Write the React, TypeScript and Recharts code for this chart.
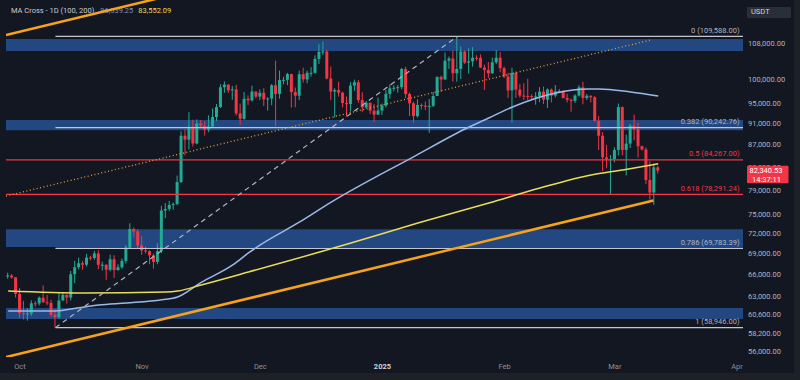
import React from 'react';
import { ComposedChart, Bar, Line, XAxis, YAxis, ReferenceLine, ReferenceArea } from 'recharts';

// day 0 = 2024-10-01 ; first candle = 2024-09-28 (day -3)
const START_DAY = -3;

const opens = [
  65790, 65860, 65600,
  63330, 60800, 60650, 60750, 62080, 62060, 62820, 62220, 62130, 60580, 60270, 62450, 63200, 62850, 66050, 67040, 67610, 67400, 68420, 68360, 69030, 67380, 67390, 66680, 68180, 66630, 67030, 67940, 69910, 72720, 72340,
  70220, 69480, 69370, 68760, 67800, 69360, 75640, 75900, 76540, 76680, 80370, 88700, 87960, 90400, 87250, 91060, 90580, 89850, 90460, 92310, 94290, 98350, 98900, 97700, 97900, 93010, 91960, 95960, 95640, 97460,
  96410, 97190, 95840, 96000, 98770, 96960, 99870, 99920, 101150, 97350, 96600, 101120, 100000, 101420, 101420, 104460, 106060, 106130, 100200, 97460, 97760, 97220, 95100, 94890, 98700, 99400, 95700, 94200, 95160, 93570, 92780,
  93580, 94590, 96980, 98140, 98230, 98360, 102250, 96950, 95040, 92480, 94700, 94570, 94510, 94520, 96530, 100500, 99990, 104080, 104560, 101330, 102260, 106140, 103650, 103930, 104720, 104710, 102570, 102050, 101300, 103700, 104730,
  102430, 100640, 97690, 101400, 97870, 96620, 96550, 96500, 96450, 96460, 97430, 95780, 97870, 96620, 97510, 97570, 96120, 95770, 95540, 96630, 98330, 96130, 96580, 96270, 91550, 88700, 84700, 84350,
  84380, 86060, 94270, 86070, 87220, 90620, 89960, 86740, 86150, 80730, 78600, 82930,
];
const highs = [
  66260, 66080, 65630,
  64130, 62390, 61470, 62480, 62370, 62980, 64480, 63180, 62540, 61300, 63420, 63480, 63290, 66500, 67950, 68420, 67940, 68970, 68690, 69400, 69520, 67840, 67470, 68850, 68780, 67450, 68300, 70270, 73620, 72960, 72700,
  71630, 70000, 69460, 69000, 70580, 76400, 76850, 77200, 76950, 81500, 89530, 89940, 93260, 91790, 91850, 91740, 91450, 92650, 94000, 94900, 99000, 99590, 98950, 98630, 98870, 94970, 97360, 96650, 98690, 97460,
  97900, 98150, 96300, 99000, 104090, 101900, 100550, 101400, 101220, 98300, 101900, 102540, 101900, 102650, 105250, 107780, 108350, 106530, 102800, 98140, 99500, 97400, 96420, 99420, 99960, 99880, 97300, 95500, 95200, 94900, 96200,
  95000, 97800, 98980, 98770, 98800, 102480, 102720, 97250, 95350, 95830, 95000, 95400, 95900, 97370, 100680, 100870, 105900, 104990, 106330, 109588, 107240, 106400, 106850, 107120, 105290, 105470, 103200, 103780, 104780, 106450, 106000,
  102780, 101450, 102500, 101730, 99000, 99200, 100140, 96880, 97320, 98350, 98500, 98120, 98100, 98830, 97970, 97730, 97000, 96000, 96900, 98770, 99500, 96950, 96670, 96500, 92500, 89400, 87000, 85120,
  86550, 95000, 94420, 88900, 90990, 92800, 91200, 86850, 86500, 84000, 83600, 83200,
];
const lows = [
  65420, 65430, 62850,
  60160, 59980, 59830, 60460, 61640, 61800, 62130, 61840, 60310, 58946, 60060, 62430, 62040, 62440, 64800, 66750, 66660, 67160, 68030, 68100, 66750, 66570, 65260, 66460, 65520, 66560, 66820, 67570, 69730, 71440, 69690,
  68830, 69040, 67460, 66830, 67460, 69070, 74420, 75570, 75750, 76490, 80220, 85070, 86130, 86670, 87100, 90090, 88720, 89370, 90420, 91500, 94100, 97200, 97170, 95770, 92600, 90790, 91770, 94700, 95400, 96030,
  95700, 94500, 93580, 94660, 90500, 95980, 98950, 98770, 94150, 94260, 95700, 99310, 99200, 100620, 101220, 103330, 105320, 100000, 95670, 92230, 96400, 94200, 92400, 93400, 97600, 95140, 93250, 94000, 92900, 91300, 92700,
  92750, 94200, 96000, 97520, 97250, 97920, 96130, 92500, 91200, 92200, 93800, 93700, 89260, 94300, 96500, 97330, 99950, 102280, 99550, 99500, 100100, 103340, 101250, 102750, 104100, 102460, 97780, 100270, 101250, 103300, 101550,
  100280, 96150, 91230, 96150, 96200, 95700, 95650, 95700, 94750, 95260, 94880, 94090, 95220, 96250, 97230, 96050, 95200, 93350, 95120, 96400, 94850, 95720, 95250, 91370, 86050, 82250, 82770, 78250,
  83820, 85050, 85080, 81500, 86400, 87850, 84670, 85950, 80000, 77400, 76550, 81800,
];
const closes = [
  65860, 65600, 63330,
  60800, 60650, 60750, 62080, 62060, 62820, 62220, 62130, 60580, 60270, 62450, 63200, 62850, 66050, 67040, 67610, 67400, 68420, 68360, 69030, 67380, 67390, 66680, 68180, 66630, 67030, 67940, 69910, 72720, 72340, 70220,
  69480, 69370, 68760, 67800, 69360, 75640, 75900, 76540, 76680, 80370, 88700, 87960, 90400, 87250, 91060, 90580, 89850, 90460, 92310, 94290, 98350, 98900, 97700, 97900, 93010, 91960, 95960, 95640, 97460, 96410,
  97190, 95840, 96000, 98770, 96960, 99870, 99920, 101150, 97350, 96600, 101120, 100000, 101420, 101420, 104460, 106060, 106130, 100200, 97460, 97760, 97220, 95100, 94890, 98700, 99400, 95700, 94200, 95160, 93570, 92780, 93580,
  94590, 96980, 98140, 98230, 98360, 102250, 96950, 95040, 92480, 94700, 94570, 94510, 94520, 96530, 100500, 99990, 104080, 104560, 101330, 102260, 106140, 103650, 103930, 104720, 104710, 102570, 102050, 101300, 103700, 104730, 102430,
  100640, 97690, 101400, 97870, 96620, 96550, 96500, 96450, 96460, 97430, 95780, 97870, 96620, 97510, 97570, 96120, 95770, 95540, 96630, 98330, 96130, 96580, 96270, 91550, 88700, 84700, 84350, 84380,
  86060, 94270, 86070, 87220, 90620, 89960, 86740, 86150, 80730, 78600, 82930, 82340.53,
];

// Moving averages (day, value)
const ma100Days = [-3, 9, 15, 20, 27, 36, 40, 46, 54, 58, 61, 71, 79, 100, 114, 119, 125, 136, 144, 147, 155, 162];
const ma100Values = [61060, 61060, 61500, 61850, 62120, 62550, 62910, 64900, 67360, 69100, 70300, 73820, 77000, 84850, 90360, 92110, 94300, 97160, 97990, 98000, 97360, 96539.25];
const ma200Days = [-3, 16, 37, 40, 46, 58, 84, 101, 119, 132, 145, 153, 162];
const ma200Values = [63720, 63460, 63590, 63720, 64550, 66360, 70580, 73660, 76860, 79360, 81580, 82460, 83552.09];

// Trend lines (day, price)
const lowerChannelDays = [-3.55, 160.8];
const lowerChannelValues = [55360, 77280];
const upperChannelDays = [-3.55, 40];
const upperChannelValues = [109930, 120030];
const midChannelDays = [-3.55, 160.4];
const midChannelValues = [78010, 108820];
const fibDiagonalDays = [9, 111];
const fibDiagonalValues = [58946, 109588];

// Fibonacci levels
const fibLevels = ['0', '0.382', '0.5', '0.618', '0.786', '1'];
const fibPrices = [109588, 90242.76, 84267, 78291.24, 69783.39, 58946];
const fibStartDays = [9, 9, -3.55, -3.55, 9, 9];
const fibIsKey = [false, false, true, true, false, false];

// Supply / demand zones
const zoneLows = [106240, 89750, 70000, 60050];
const zoneHighs = [108990, 91700, 72700, 61450];

const monthTicks = [0, 31, 61, 92, 123, 151, 182];
const monthLabels = ['Oct', 'Nov', 'Dec', '2025', 'Feb', 'Mar', 'Apr'];
const lastPrice = 82340.53;
const countdown = '14:37:11';
const priceTicks = [56000, 58200, 60600, 63000, 66000, 69000, 72000, 75000, 79000, 83000, 87000, 91000, 95000, 100000, 108000, lastPrice];
const headerTitle = 'MA Cross - 1D (100, 200)';
const headerMA100 = '96,539.25';
const headerMA200 = '83,552.09';

const X_DOMAIN: [number, number] = [-3.55, 183.52];
const Y_DOMAIN: [number, number] = [55370, 118430];

const GREEN = '#22ab94';
const RED = '#f23645';
const BLUE_MA = '#9ab9ea';
const YELLOW_MA = '#e8dd5a';
const ORANGE = '#f7a21b';
const GREY = '#b2b5be';
const FONT = 'Roboto, "Noto Sans", sans-serif';

const fmt2 = (v: number) => v.toLocaleString('en-US', { minimumFractionDigits: 2, maximumFractionDigits: 2 });

const data: any[] = closes.map((c, i) => {
  const day = START_DAY + i;
  const row: any = { day, open: opens[i], high: highs[i], low: lows[i], close: c, range: [lows[i], highs[i]] };
  const a = ma100Days.indexOf(day);
  if (a >= 0) row.ma100 = ma100Values[a];
  const b = ma200Days.indexOf(day);
  if (b >= 0) row.ma200 = ma200Values[b];
  return row;
});

const Candle = (props: any) => {
  const { x, y, width, height, payload } = props;
  if (!payload || !Number.isFinite(y) || !Number.isFinite(height)) return <g />;
  const { open, close, high, low } = payload;
  const lh = Math.log(high);
  const ll = Math.log(low);
  const span = lh - ll || 1;
  const py = (v: number) => y + (height * (lh - Math.log(v))) / span;
  const color = close >= open ? GREEN : RED;
  const cx = x + width / 2;
  const top = py(Math.max(open, close));
  const bot = py(Math.min(open, close));
  return (
    <g>
      <line x1={cx} x2={cx} y1={y} y2={y + height} stroke={color} strokeWidth={1} />
      <rect x={x} y={top} width={width} height={Math.max(1, bot - top)} fill={color} />
    </g>
  );
};

const MonthTick = (props: any) => {
  const { x, y, payload } = props;
  const i = monthTicks.indexOf(payload.value);
  const label = i >= 0 ? monthLabels[i] : '';
  const bold = label === '2025';
  return (
    <text x={x} y={y} dy="0.355em" textAnchor="middle" fill={bold ? '#d1d4dc' : '#8d909a'} fontSize={7.5} fontWeight={bold ? 700 : 400}>
      {label}
    </text>
  );
};

const PriceTick = (props: any) => {
  const { x, y, payload } = props;
  if (payload.value === lastPrice) {
    return (
      <g>
        <rect x={x - 1} y={y - 5} width={41.5} height={17.5} fill={RED} rx={1} />
        <text x={x + 1.5} y={y + 2.7} fill="#ffffff" fontSize={7.5}>{fmt2(lastPrice)}</text>
        <text x={x + 4} y={y + 11.2} fill="#ffffff" fontSize={7.5}>{countdown}</text>
      </g>
    );
  }
  return (
    <text x={x} y={y} dy="0.355em" textAnchor="start" fill="#b2b5be" fontSize={7.5}>
      {fmt2(payload.value)}
    </text>
  );
};

export default function App() {
  return (
    <div style={{ position: 'fixed', left: 0, top: 0, width: 800, height: 380, background: '#1d2027', overflow: 'hidden', fontFamily: FONT }}>
      <div style={{ position: 'absolute', left: 0, top: 0, width: 794, height: 373, background: '#131722' }} />
      <div style={{ position: 'absolute', left: 11, top: 6, fontSize: 7.5, lineHeight: '10px', whiteSpace: 'nowrap', display: 'flex' }}>
        <span style={{ color: '#c9ccd4' }}>{headerTitle}</span>
        <span style={{ color: '#6f93d6', marginLeft: 6 }}>{headerMA100}</span>
        <span style={{ color: YELLOW_MA, marginLeft: 5 }}>{headerMA200}</span>
      </div>
      <div style={{ position: 'absolute', left: 747, top: 7, width: 44, height: 10.5, background: '#2a2e39', borderRadius: 1, color: '#d1d4dc', fontSize: 7.5, lineHeight: '10.5px', paddingLeft: 4, boxSizing: 'border-box' }}>USDT</div>
      <div style={{ position: 'absolute', left: 0, top: 0 }}>
        <ComposedChart width={800} height={380} data={data} margin={{ top: 0, right: 0, bottom: 0, left: 6 }}>
          <XAxis
            dataKey="day"
            type="number"
            domain={X_DOMAIN}
            allowDataOverflow
            ticks={monthTicks}
            interval={0}
            tick={<MonthTick />}
            axisLine={false}
            tickLine={false}
            tickSize={6}
            tickMargin={3}
            height={23}
          />
          <YAxis
            orientation="right"
            scale="log"
            domain={Y_DOMAIN}
            allowDataOverflow
            ticks={priceTicks}
            interval={0}
            tick={<PriceTick />}
            axisLine={false}
            tickLine={false}
            tickSize={3}
            tickMargin={2}
            width={57}
          />
          {zoneLows.map((lo, i) => (
            <ReferenceArea key={'z' + i} y1={lo} y2={zoneHighs[i]} fill="#234781" fillOpacity={1} stroke="none" ifOverflow="hidden" />
          ))}
          {fibPrices.map((p, i) => (
            <ReferenceLine
              key={'f' + i}
              segment={[{ x: fibStartDays[i], y: p }, { x: X_DOMAIN[1], y: p }]}
              stroke={fibIsKey[i] ? RED : '#c3c6ce'}
              strokeWidth={fibIsKey[i] ? 1.2 : 1.3}
              ifOverflow="hidden"
              label={{
                value: `${fibLevels[i]} (${fmt2(p)})`,
                position: 'insideBottomRight',
                offset: 3.5,
                fill: fibIsKey[i] ? RED : GREY,
                fontSize: 7.5,
              }}
            />
          ))}
          <Bar dataKey="range" barSize={3} shape={(p: any) => <Candle {...p} />} isAnimationActive={false} />
          <Line dataKey="ma100" type="monotone" stroke={BLUE_MA} strokeWidth={1.5} dot={false} connectNulls isAnimationActive={false} />
          <Line dataKey="ma200" type="monotone" stroke={YELLOW_MA} strokeWidth={1.5} dot={false} connectNulls isAnimationActive={false} />
          <ReferenceLine
            segment={[{ x: fibDiagonalDays[0], y: fibDiagonalValues[0] }, { x: fibDiagonalDays[1], y: fibDiagonalValues[1] }]}
            stroke={GREY}
            strokeWidth={1.2}
            strokeDasharray="5 4"
            ifOverflow="hidden"
          />
          <ReferenceLine
            segment={[{ x: midChannelDays[0], y: midChannelValues[0] }, { x: midChannelDays[1], y: midChannelValues[1] }]}
            stroke="#e6a23c"
            strokeWidth={1.3}
            strokeDasharray="1 2.5"
            ifOverflow="hidden"
          />
          <ReferenceLine
            segment={[{ x: lowerChannelDays[0], y: lowerChannelValues[0] }, { x: lowerChannelDays[1], y: lowerChannelValues[1] }]}
            stroke={ORANGE}
            strokeWidth={2.5}
            ifOverflow="hidden"
          />
          <ReferenceLine
            segment={[{ x: upperChannelDays[0], y: upperChannelValues[0] }, { x: upperChannelDays[1], y: upperChannelValues[1] }]}
            stroke={ORANGE}
            strokeWidth={2.5}
            ifOverflow="hidden"
          />
        </ComposedChart>
      </div>
    </div>
  );
}
